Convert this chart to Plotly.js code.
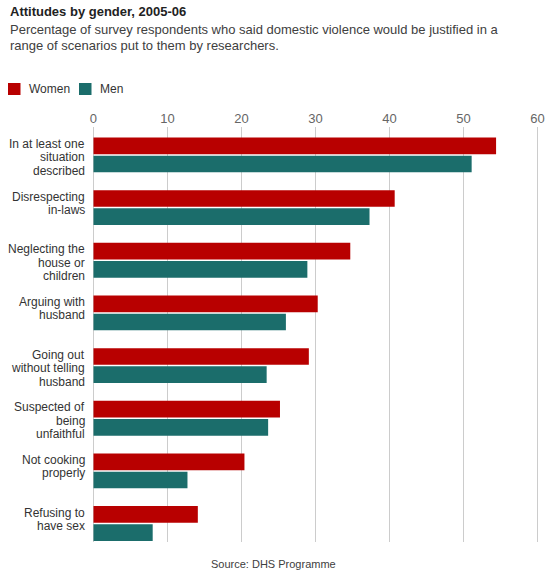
<!DOCTYPE html>
<html>
<head>
<meta charset="utf-8">
<script src="https://cdn.plot.ly/plotly-3.0.1.min.js"></script>
<style>html,body{margin:0;padding:0;background:#fff;}#chart{width:553px;height:579px;}</style>
</head>
<body>
<div id="chart"></div>
<script>
const categories = [
  "In at least one<br>situation<br>described",
  "Disrespecting<br>in-laws",
  "Neglecting the<br>house or<br>children",
  "Arguing with<br>husband",
  "Going out<br>without telling<br>husband",
  "Suspected of<br>being<br>unfaithful",
  "Not cooking<br>properly",
  "Refusing to<br>have sex"
];
const women = [54.4, 40.7, 34.7, 30.3, 29.1, 25.2, 20.4, 14.1];
const men = [51.1, 37.3, 28.9, 26.0, 23.4, 23.6, 12.7, 8.0];
const seriesNames = ["Women", "Men"];
const xTicks = [0, 10, 20, 30, 40, 50, 60];
const titleText = "Attitudes by gender, 2005-06";
const subtitleLines = [
  "Percentage of survey respondents who said domestic violence would be justified in a",
  "range of scenarios put to them by researchers."
];
const sourceText = "Source: DHS Programme";

const W = 553, H = 579;
const M = {l: 92, r: 14, t: 127, b: 37};
const plotW = W - M.l - M.r, plotH = H - M.t - M.b;
const px2x = px => (px - M.l) / plotW;
const px2y = py => (H - M.b - py) / plotH;

const FONT = "Liberation Sans, Arial, sans-serif";
const colors = ["#b80000", "#1b6d6b"];
const ids = categories.map((c, i) => "c" + i);

const traces = [
  {type: "bar", orientation: "h", name: seriesNames[0], y: ids, x: women,
   marker: {color: colors[0]}, hoverinfo: "skip", showlegend: false},
  {type: "bar", orientation: "h", name: seriesNames[1], y: ids, x: men,
   marker: {color: colors[1]}, hoverinfo: "skip", showlegend: false}
];

const annotations = [];
const shapes = [];
annotations.push({xref: "paper", yref: "paper", x: px2x(8), y: px2y(11), xanchor: "left", yanchor: "middle",
  text: "<b>" + titleText + "</b>", showarrow: false, font: {family: FONT, size: 13, color: "#222"}});
subtitleLines.forEach((t, k) => annotations.push({xref: "paper", yref: "paper", x: px2x(8), y: px2y(29.5 + 15.7 * k),
  xanchor: "left", yanchor: "middle", text: t, showarrow: false,
  font: {family: FONT, size: 13, color: "#404040"}}));
annotations.push({xref: "paper", yref: "paper", x: px2x(273), y: px2y(564), xanchor: "center", yanchor: "middle",
  text: sourceText, showarrow: false, font: {family: FONT, size: 11, color: "#404040"}});

// legend (swatch + label)
const legendX = [8, 79];
seriesNames.forEach((name, k) => {
  shapes.push({type: "rect", xref: "paper", yref: "paper",
    x0: px2x(legendX[k]), x1: px2x(legendX[k] + 12.5), y0: px2y(95), y1: px2y(83),
    fillcolor: colors[k], line: {width: 0}});
  annotations.push({xref: "paper", yref: "paper", x: px2x(legendX[k] + 18.5), y: px2y(89),
    xanchor: "left", yanchor: "middle", text: name, showarrow: false,
    font: {family: FONT, size: 12, color: "#333"}});
});

categories.forEach((c, i) => {
  c.split("<br>").forEach((line, k) => annotations.push({
    xref: "paper", yref: "y", x: px2x(86.5), y: ids[i], xanchor: "right", yanchor: "middle",
    yshift: 11 - 13.5 * k, text: line, showarrow: false,
    font: {family: FONT, size: 12, color: "#333"}
  }));
});

const layout = {
  width: W, height: H, margin: M,
  paper_bgcolor: "#fff", plot_bgcolor: "#fff",
  font: {family: FONT, size: 12, color: "#333"},
  barmode: "group", bargap: 0.31, bargroupgap: 0.08,
  showlegend: false,
  xaxis: {side: "top", range: [-0.2, 60.2], tickvals: xTicks, ticktext: xTicks.map(String),
    showgrid: true, gridcolor: "#cccccc", gridwidth: 1, zeroline: false, showline: false, ticks: "",
    tickfont: {size: 13, color: "#666"}, fixedrange: true},
  yaxis: {type: "category", categoryarray: ids, range: [7.35, -0.53], showticklabels: false,
    showgrid: false, zeroline: false, showline: false, ticks: "", fixedrange: true},
  annotations: annotations,
  shapes: shapes
};

Plotly.newPlot("chart", traces, layout, {displayModeBar: false, staticPlot: true});
</script>
</body>
</html>
